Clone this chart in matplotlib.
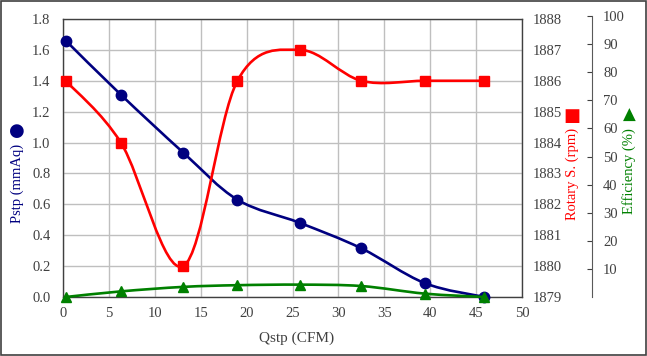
import matplotlib
matplotlib.use('Agg')
import matplotlib.pyplot as plt
from matplotlib.path import Path
from matplotlib.patches import PathPatch, Rectangle

# data
qstp = [0.3, 6.3, 13.1, 19.0, 25.8, 32.5, 39.4, 45.9]
pstp = [1.66, 1.31, 0.935, 0.63, 0.48, 0.315, 0.09, 0.0]
rpm = [1886, 1884, 1880, 1886, 1887, 1886, 1886, 1886]
eff = [0.0, 2.0, 3.6, 4.2, 4.4, 3.9, 1.2, 0.0]

plt.rcParams['font.family'] = ['Liberation Serif', 'DejaVu Serif']
plt.rcParams['font.size'] = 10.5

W, H = 647, 356
fig = plt.figure(figsize=(W / 100, H / 100), dpi=100)

# plot area in pixels
L, R, T, B = 63, 522, 19, 297
pos = [L / W, 1 - B / H, (R - L) / W, (B - T) / H]

tick_c = '#404040'
grid_c = '#bfbfbf'


def smooth(ax, xs, ys, color):
    # excel-like smoothed line, bezier segments through the points
    pts = list(zip(xs, ys))
    n = len(pts)
    verts = [pts[0]]
    codes = [Path.MOVETO]
    for i in range(n - 1):
        p0 = pts[i - 1] if i > 0 else pts[i]
        p1 = pts[i]
        p2 = pts[i + 1]
        p3 = pts[i + 2] if i + 2 < n else pts[i + 1]
        c1 = (p1[0] + (p2[0] - p0[0]) / 6, p1[1] + (p2[1] - p0[1]) / 6)
        c2 = (p2[0] - (p3[0] - p1[0]) / 6, p2[1] - (p3[1] - p1[1]) / 6)
        verts += [c1, c2, p2]
        codes += [Path.CURVE4] * 3
    ax.add_patch(PathPatch(Path(verts, codes), facecolor='none', edgecolor=color,
                           lw=1.9, transform=ax.transData, clip_on=False))


ax = fig.add_axes(pos)
ax.set_xlim(0, 50)
ax.set_ylim(0, 1.8)
ax.set_xticks(range(0, 51, 5))
ax.set_yticks([i * 0.2 for i in range(10)])
ax.set_yticklabels(['%.1f' % (i * 0.2) for i in range(10)])
ax.grid(True, color=grid_c, lw=1)
ax.set_axisbelow(True)
ax.tick_params(axis='both', length=0, colors=tick_c)
ax.tick_params(axis='y', pad=9)
ax.tick_params(axis='x', pad=7)
for s in ax.spines.values():
    s.set_color(tick_c)
    s.set_linewidth(1)

smooth(ax, qstp, pstp, '#000080')
ax.plot(qstp, pstp, 'o', color='#000080', ms=7.5, clip_on=False, zorder=5)

ax2 = ax.twinx()
ax2.set_ylim(1879, 1888)
ax2.set_yticks(range(1879, 1889))
ax2.tick_params(axis='y', length=0, colors=tick_c, pad=8)
for s in ax2.spines.values():
    s.set_visible(False)
smooth(ax2, qstp, rpm, '#ff0000')
ax2.plot(qstp, rpm, 's', color='#ff0000', ms=7.5, clip_on=False, zorder=5)

# third axis, spine a little taller than the plot area
top3 = 16
ax3 = fig.add_axes([L / W, 1 - B / H, (R - L) / W, (B - top3) / H])
ax3.patch.set_visible(False)
ax3.set_xlim(0, 50)
ax3.set_ylim(0, 100)
ax3.set_xticks([])
ax3.yaxis.tick_right()
ax3.set_yticks(range(10, 101, 10))
ax3.tick_params(axis='y', direction='in', length=3.5, colors=tick_c, pad=8)
for k, s in ax3.spines.items():
    s.set_visible(k == 'right')
ax3.spines['right'].set_position(('axes', (592 - L) / (R - L)))
ax3.spines['right'].set_color('#595959')
smooth(ax3, qstp, eff, '#008000')
ax3.plot(qstp, eff, '^', color='#008000', ms=7.5, clip_on=False, zorder=5)

# axis titles
fig.text(297 / W, 1 - 338 / H, 'Qstp (CFM)', ha='center', va='center', fontsize=11, color=tick_c)
fig.text(17 / W, 1 - 183 / H, 'Pstp (mmAq)', rotation=90, ha='center', va='center',
         fontsize=10.5, color='#000080')
fig.text(17 / W, 1 - 131 / H, '●', ha='center', va='center', fontsize=13,
         color='#000080', family='DejaVu Sans')
fig.text(572 / W, 1 - 174 / H, 'Rotary S. (rpm)', rotation=90, ha='center', va='center',
         fontsize=10.5, color='#ff0000')
fig.text(572 / W, 1 - 116 / H, '■', ha='center', va='center', fontsize=13,
         color='#ff0000', family='DejaVu Sans')
fig.text(629 / W, 1 - 171 / H, 'Efficiency (%)', rotation=90, ha='center', va='center',
         fontsize=10.5, color='#008000')
fig.text(629 / W, 1 - 115 / H, '▲', ha='center', va='center', fontsize=12,
         color='#008000', family='DejaVu Sans')

# outer frame
fig.patches.append(Rectangle((0.001, 0.003), 0.997, 0.995, transform=fig.transFigure,
                             fill=False, edgecolor='#404040', lw=1.2))

fig.savefig('out.png', dpi=100)
